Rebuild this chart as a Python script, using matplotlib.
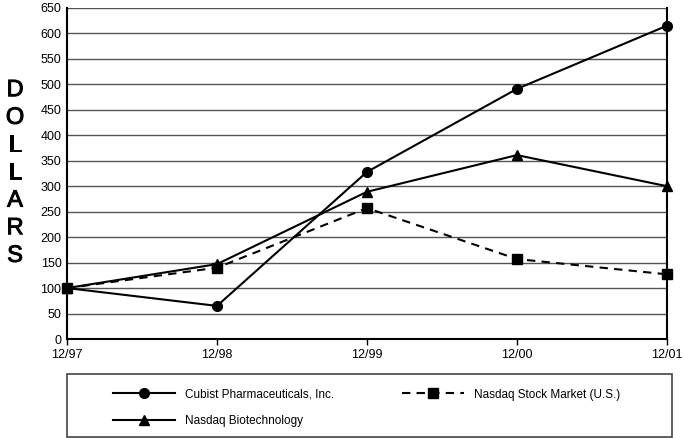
import matplotlib.pyplot as plt
import matplotlib.patheffects as pe
import numpy as np
from matplotlib.patches import Rectangle

plt.rcParams["font.family"] = ["Liberation Sans", "DejaVu Sans"]

dates = ["12/97", "12/98", "12/99", "12/00", "12/01"]
cubist = [100, 65, 328, 491, 615]
nasdaq_stock = [100, 140, 257, 157, 127]
nasdaq_bio = [100, 147, 289, 361, 300]

fig = plt.figure(figsize=(6.84, 4.38), dpi=100)
ax = fig.add_axes([0.098, 0.226, 0.877, 0.756])

x = np.arange(len(dates))
ax.plot(x, cubist, color="black", lw=1.5, marker="o", ms=7,
        label="Cubist Pharmaceuticals, Inc.", clip_on=False, zorder=3)
ax.plot(x, nasdaq_bio, color="black", lw=1.5, marker="^", ms=7,
        label="Nasdaq Biotechnology", clip_on=False, zorder=3)
ax.plot(x, nasdaq_stock, color="black", lw=1.5, ls=(0, (4, 3)), marker="s", ms=7,
        label="Nasdaq Stock Market (U.S.)", clip_on=False, zorder=3)

ax.set_xlim(0, len(dates) - 1)
ax.set_ylim(0, 650)
ax.set_xticks(x)
ax.set_xticklabels(dates, fontsize=9)
ax.set_yticks(np.arange(0, 651, 50))
ax.tick_params(axis="y", length=0, labelsize=9, pad=4)
ax.tick_params(axis="x", length=4, width=1, labelsize=9, pad=3)
ax.yaxis.grid(True, color="#555555", lw=1)
ax.set_axisbelow(True)
for side in ["left", "bottom"]:
    ax.spines[side].set_linewidth(1.5)
ax.spines["top"].set_visible(False)
ax.spines["right"].set_linewidth(1.5)

fig.text(0.022, 0.605, "\n".join("DOLLARS"), fontsize=17,
         ha="center", va="center", linespacing=1.33,
         path_effects=[pe.withStroke(linewidth=0.7, foreground="black")])

# legend frame
fig.patches.append(Rectangle((0.098, 0.002), 0.885, 0.144, transform=fig.transFigure,
                             fill=False, edgecolor="#444444", lw=1.2))

handles, labels = ax.get_legend_handles_labels()
fig.legend(handles, labels, loc="upper left", bbox_to_anchor=(0.165, 0.113),
           ncol=2, fontsize=8.5, frameon=False, handlelength=5.25,
           handletextpad=0.85, columnspacing=5.8, borderpad=0,
           labelspacing=1.25, borderaxespad=0)

fig.savefig("out.png", dpi=100)
